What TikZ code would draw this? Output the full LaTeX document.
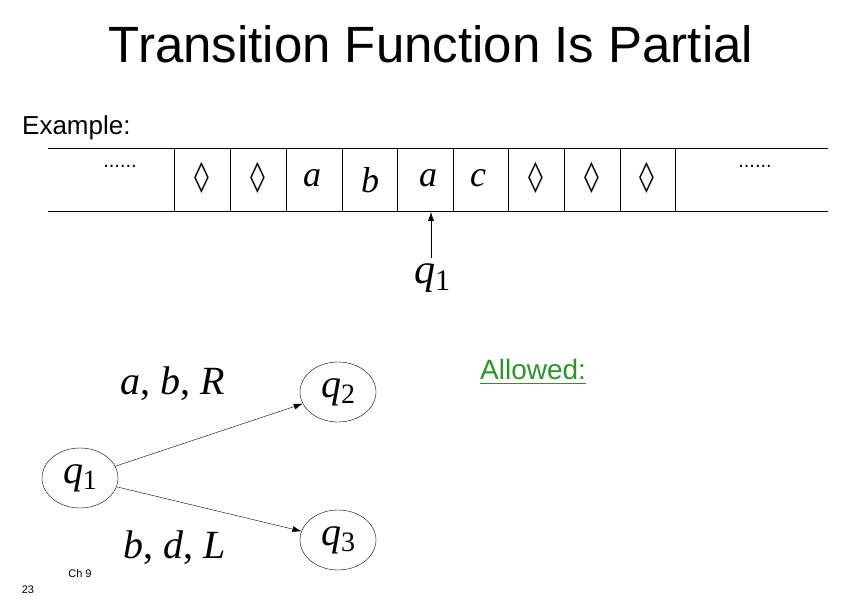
\documentclass[tikz,border=0pt]{standalone}
\usepackage{fontspec}
\setmainfont{Liberation Serif}
\newfontfamily\arialf{Liberation Sans}
\newfontfamily\dejaf{DejaVu Sans}
\usetikzlibrary{shapes.geometric,arrows.meta}
\begin{document}
\begin{tikzpicture}[x=1pt,y=-1pt,
  st/.style={draw,ellipse,minimum width=76pt,minimum height=60pt,inner sep=0pt,font=\fontsize{40}{40}\selectfont\itshape},
  cell/.style={font=\fontsize{36}{36}\selectfont\itshape},
  dia/.style={font=\dejaf\fontsize{30}{30}\selectfont},
  ar/.style={-{Latex[length=9pt,width=6pt]}}]
\useasboundingbox (0,0) rectangle (865,604);
\node (title) at (431,44) {\arialf\fontsize{51}{51}\selectfont Transition Function Is Partial};
\node[anchor=west,inner sep=0pt] (ex) at (22,128) {\arialf\fontsize{26}{26}\selectfont Example:};
\draw (48,148) -- (828,148);
\draw (48,211) -- (828,211);
\foreach \x in {174,230,286,342,397,453,508,564,620,675} \draw (\x,148) -- (\x,211);
\node (dl) at (120,166) {\arialf\fontsize{20}{20}\selectfont ......};
\node (dr) at (755,166) {\arialf\fontsize{20}{20}\selectfont ......};
\node[dia] (c1) at (202,178) {◊};
\node[dia] (c2) at (258,178) {◊};
\node[cell] (c3) at (312,178) {a};
\node[cell] (c4) at (370,180) {b};
\node[cell] (c5) at (428,178) {a};
\node[cell] (c6) at (478,178) {c};
\node[dia] (c7) at (536,178) {◊};
\node[dia] (c8) at (592,178) {◊};
\node[dia] (c9) at (647,178) {◊};
\node[font=\fontsize{42}{42}\selectfont\itshape] (head) at (432,278) {q\raisebox{-7pt}{\upshape\fontsize{30}{30}\selectfont 1}};
\draw[ar] (431,258) -- (431,212);
\node[st] (q1) at (80,478) {q\raisebox{-6pt}{\upshape\fontsize{28}{28}\selectfont 1}};
\node[st] (q2) at (338,392) {q\raisebox{-6pt}{\upshape\fontsize{28}{28}\selectfont 2}};
\node[st] (q3) at (338,540) {q\raisebox{-6pt}{\upshape\fontsize{28}{28}\selectfont 3}};
\draw[ar] (q1) -- (q2);
\draw[ar] (q1) -- (q3);
\node[font=\fontsize{40}{40}\selectfont\itshape] (l1) at (173,384) {a\upshape, \itshape b\upshape, \itshape R};
\node[font=\fontsize{40}{40}\selectfont\itshape] (l2) at (175,548) {b\upshape, \itshape d\upshape, \itshape L};
\definecolor{agreen}{RGB}{40,150,40}
\node[anchor=west,text=agreen,inner sep=0pt] (al) at (480,369) {\arialf\fontsize{28}{28}\selectfont Allowed:};
\draw[agreen] (480,383) -- (al.east |- 0,383);
\node (ch) at (80,574) {\arialf\fontsize{11}{11}\selectfont Ch 9};
\node (pg) at (28,590) {\arialf\fontsize{11}{11}\selectfont 23};
\end{tikzpicture}
\end{document}
